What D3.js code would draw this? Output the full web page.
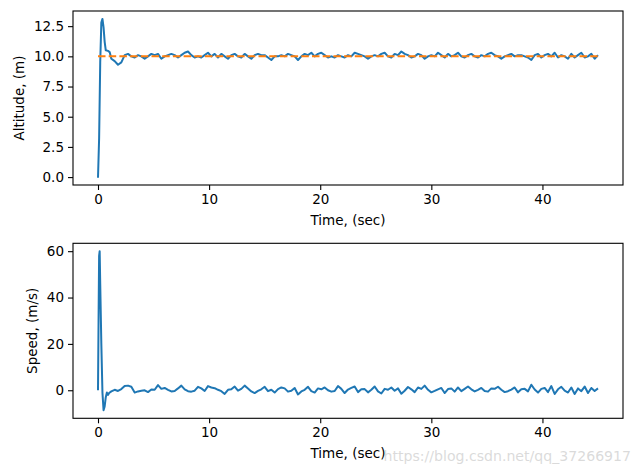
<!DOCTYPE html>
<html><head><meta charset="utf-8">
<script src="https://cdn.jsdelivr.net/npm/d3@7/dist/d3.min.js"></script>
<style>body{margin:0;background:#fff}svg{display:block}text{font-family:"DejaVu Sans",sans-serif}</style>
</head><body><div id="chart"></div>
<script>
// ---- data ----
const altTransientT = [0, 0.1, 0.2, 0.3, 0.4, 0.5, 0.6, 0.7, 0.9, 1.05, 1.2, 1.5, 1.8, 2.1];
const altTransientV = [-0.05, 3.2, 9.5, 12.8, 13.1, 12.4, 11.2, 10.5, 10.45, 10.35, 9.8, 9.6, 9.3, 9.5];
const altNoiseStart = 2.4, altNoiseStep = 0.3;
const altNoise = [
10.1,10.2,10.0,9.9,10.1,10.0,9.8,10.0,10.2,10.1,
10.2,9.8,10.0,10.1,10.2,10.1,9.9,10.1,10.3,10.4,
10.1,9.9,10.0,9.9,10.1,10.3,10.0,10.2,9.9,10.2,
10.0,9.8,10.1,10.2,10.0,9.9,10.2,10.0,9.8,10.1,
10.2,10.1,10.1,9.9,9.7,10.0,10.0,10.1,10.0,10.2,
10.1,10.0,9.7,10.0,10.2,10.1,10.3,10.0,10.2,10.3,
10.1,9.9,10.0,9.9,10.1,10.0,9.9,10.1,10.0,10.3,
10.2,10.1,10.0,9.8,10.0,10.1,10.0,10.2,10.3,10.0,
9.9,10.2,10.1,10.4,10.2,10.1,9.9,10.0,10.2,10.1,
9.8,10.0,10.1,10.0,10.3,10.1,9.9,10.2,10.0,10.1,
10.3,10.0,9.9,10.1,10.2,10.0,9.9,10.1,10.0,10.2,
10.3,10.1,10.0,9.8,10.0,10.1,10.2,10.0,10.1,10.1,
10.0,9.9,9.7,10.1,10.2,9.9,10.1,10.2,10.0,10.3,
9.9,10.1,10.0,9.8,10.2,9.9,10.1,10.3,9.9,10.0,
10.2,9.8,10.1
];
const altRefT = [0, 45];
const altRefV = [10, 10];

const spdTransientT = [0, 0.05, 0.1, 0.15, 0.2, 0.3, 0.4, 0.5, 0.6, 0.7, 0.8, 0.9, 1.0];
const spdTransientV = [0, 30, 58, 60, 46, 20, -1, -8.6, -7, -3, -1, -2, -1.2];
const spdNoiseStart = 1.2, spdNoiseStep = 0.3;
const spdNoise = [
-0.5,0.2,-0.3,0.5,1.8,2.0,1.5,-1.0,-0.5,-0.2,
0.0,-0.8,0.3,0.2,2.2,0.6,1.0,0.2,-0.5,-0.3,
0.8,2.0,0.4,-0.4,-0.6,-0.2,1.5,0.8,-0.3,1.8,
1.2,0.9,0.2,-0.4,-1.6,0.2,0.4,1.6,-0.2,0.6,
2.0,0.8,-0.5,-1.2,-0.3,0.4,1.5,-0.4,0.2,-1.0,
0.5,1.2,0.8,-0.6,-0.2,1.0,-1.8,-0.5,0.2,1.5,
-0.4,-1.0,0.8,0.4,1.2,0.0,-0.6,-0.3,1.8,0.6,
-1.2,0.3,1.0,1.6,-0.8,0.4,0.5,-0.9,0.2,1.6,
-0.5,-1.4,0.6,0.2,1.2,-0.2,0.8,-1.5,-0.2,1.4,
0.4,-0.8,1.2,0.6,2.0,0.2,-0.9,-0.3,0.4,1.0,
-1.2,0.5,0.8,-0.6,1.2,-0.4,0.6,1.6,0.4,-0.5,
0.2,1.0,-0.3,-0.6,0.8,0.6,1.5,0.2,-0.8,-0.4,
0.3,1.2,-0.9,0.4,0.6,-0.5,2.4,0.3,-1.0,0.6,
1.0,-0.8,1.8,-1.6,0.4,1.5,-0.2,-1.0,1.2,-1.6,
0.8,-0.4,1.6,-1.2,1.0,-0.3,0.8
];
const xTicks = [0, 10, 20, 30, 40];
const altTicks = [0, 2.5, 5, 7.5, 10, 12.5];
const spdTicks = [0, 20, 40, 60];

// ---- build series ----
function series(tt, tv, start, step, noise) {
  const pts = tt.map((t, i) => [t, tv[i]]);
  noise.forEach((v, i) => pts.push([start + i * step, v]));
  return pts;
}
const alt = series(altTransientT, altTransientV, altNoiseStart, altNoiseStep, altNoise);
const spd = series(spdTransientT, spdTransientV, spdNoiseStart, spdNoiseStep, spdNoise);
const altRef = altRefT.map((t, i) => [t, altRefV[i]]);

const W = 635, H = 474;
const svg = d3.select("#chart").append("svg").attr("width", W).attr("height", H);
const L = 73, R = 623;
const FS = 13.5;

function panel(top, bottom, yDomain, yTicks, yFmt, lines, yLabel, yLabelX) {
  const x = d3.scaleLinear().domain([-2.25, 47.25]).range([L, R]);
  const y = d3.scaleLinear().domain(yDomain).range([bottom, top]);
  const g = svg.append("g");
  const line = d3.line().x(d => x(d[0])).y(d => y(d[1]));
  lines.forEach(l => {
    g.append("path").datum(l.data).attr("d", line).attr("fill", "none")
      .attr("stroke", l.color).attr("stroke-width", 2)
      .attr("stroke-dasharray", l.dash || null).attr("stroke-linejoin", "round");
  });
  const xa = g.append("g").attr("transform", `translate(0,${bottom})`)
    .call(d3.axisBottom(x).tickValues(xTicks).tickSize(5).tickPadding(4).tickFormat(d3.format("d")));
  const ya = g.append("g").attr("transform", `translate(${L},0)`)
    .call(d3.axisLeft(y).tickValues(yTicks).tickSize(5).tickPadding(4).tickFormat(yFmt));
  [xa, ya].forEach(a => {
    a.select(".domain").remove();
    a.selectAll("line").attr("stroke", "#000").attr("stroke-width", 1.1);
    a.selectAll("text").attr("font-size", FS).attr("fill", "#000").attr("font-family", "DejaVu Sans");
  });
  g.append("rect").attr("x", L).attr("y", top).attr("width", R - L).attr("height", bottom - top)
    .attr("fill", "none").attr("stroke", "#000").attr("stroke-width", 1.1);
  g.append("text").attr("x", (L + R) / 2).attr("y", bottom + 40).attr("text-anchor", "middle")
    .attr("font-size", FS).text("Time, (sec)");
  g.append("text").attr("transform", `translate(${yLabelX},${(top + bottom) / 2}) rotate(-90)`)
    .attr("text-anchor", "middle").attr("font-size", FS).text(yLabel);
}

panel(11, 185, [-0.655, 13.755], altTicks, d3.format(".1f"),
  [{data: alt, color: "#1f77b4"}, {data: altRef, color: "#ff7f0e", dash: "7.5,3.2"}],
  "Altitude, (m)", 24);
panel(243.3, 418.3, [-12.1, 63.4], spdTicks, d3.format("d"),
  [{data: spd, color: "#1f77b4"}], "Speed, (m/s)", 37);

svg.append("text").attr("x", 631).attr("y", 461).attr("text-anchor", "end")
  .attr("font-family", "Liberation Sans, Arial, sans-serif").attr("font-size", 14.1)
  .attr("fill", "#d4d4d4").attr("fill-opacity", 0.85).text("https://blog.csdn.net/qq_37266917");
</script></body></html>
